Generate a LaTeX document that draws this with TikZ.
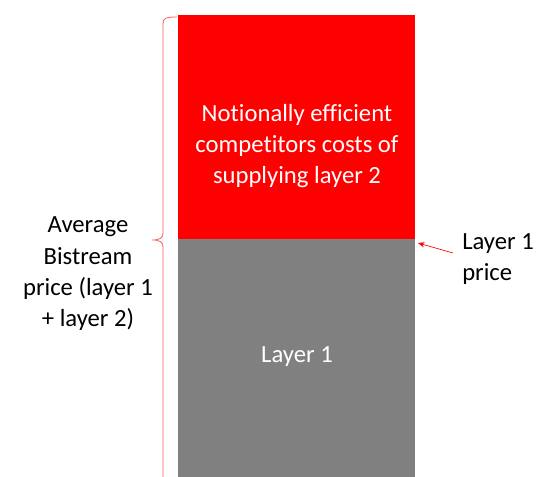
\documentclass[tikz,border=0pt]{standalone}
\usepackage{fontspec}
\setmainfont{Carlito}[Ligatures=NoCommon]
\usetikzlibrary{arrows.meta}
\definecolor{barred}{RGB}{255,0,0}
\definecolor{bargray}{RGB}{128,128,128}
\definecolor{bracered}{RGB}{255,90,90}
\tikzset{
  block/.style={draw=none, inner sep=0pt, minimum width=237*0.75pt},
  label/.style={font=\fontsize{18.5}{23.5}\selectfont, align=center, inner sep=0pt},
  pointer/.style={draw=barred, line width=0.5pt, -{Stealth[length=5pt,width=4pt]}}
}
\begin{document}
\begin{tikzpicture}[x=0.75pt, y=-0.75pt]
  \useasboundingbox (0,0) rectangle (537,477);
  % stacked bar: layer 2 on top of layer 1
  \node[block, fill=barred, minimum height=224*0.75pt, anchor=north west] (top) at (178,15) {};
  \node[block, fill=bargray, minimum height=240*0.75pt, anchor=north west] (bottom) at (178,239) {};
  \node[label, text=white] (toptext) at (297,146) {Notionally efficient\\competitors costs of\\supplying layer 2};
  \node[label, text=white] (bottomtext) at (297,357) {Layer 1};
  % brace spanning the whole bar
  \draw[bracered, line width=0.6pt]
    (177,17) .. controls (166,17) and (163,18) .. (163,24)
    -- (163,233) .. controls (163,238) and (160,240) .. (152,240)
    .. controls (160,240) and (163,242) .. (163,247)
    -- (163,480);
  \node[label, text=black] (avg) at (88,274) {Average\\Bistream\\price (layer 1\\+ layer 2)};
  % layer 1 price marker
  \node[label, text=black, align=left, anchor=west] (price) at (462,259) {Layer 1\\price};
  \coordinate (tail) at (453,253);
  \coordinate (tip) at (418,243);
  \draw[pointer] (tail) -- (tip);
\end{tikzpicture}
\end{document}
